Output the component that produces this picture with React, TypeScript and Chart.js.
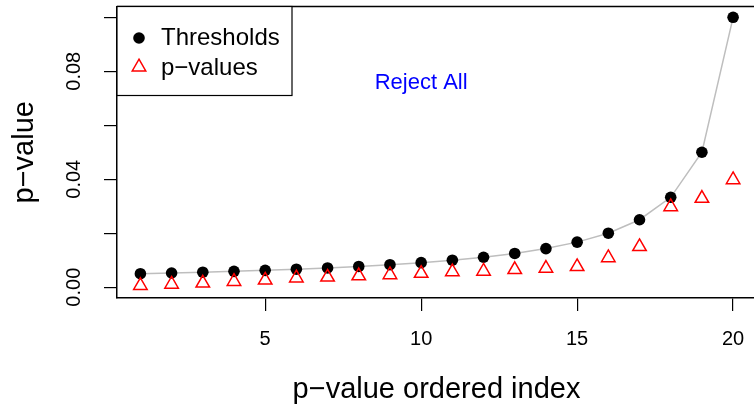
import React, { useEffect, useRef } from "react";
import { Chart, registerables } from "chart.js";

Chart.register(...registerables);

const indices = [1, 2, 3, 4, 5, 6, 7, 8, 9, 10, 11, 12, 13, 14, 15, 16, 17, 18, 19, 20];
const thresholds = [
  0.005, 0.00526, 0.00556, 0.00588, 0.00625, 0.00667, 0.00714, 0.00769, 0.00833, 0.00909,
  0.01, 0.0111, 0.0125, 0.0143, 0.0167, 0.02, 0.025, 0.0333, 0.05, 0.1,
];
const pValues = [
  0.0006, 0.0011, 0.0015, 0.0021, 0.0026, 0.0034, 0.0037, 0.0042, 0.0046, 0.0051,
  0.0057, 0.0059, 0.0065, 0.007, 0.0076, 0.0109, 0.015, 0.0298, 0.0329, 0.0398,
];
const xTickValues = [5, 10, 15, 20];
const yTickValues = [0, 0.02, 0.04, 0.06, 0.08, 0.1];
const yTickLabels = ["0.00", "", "0.04", "", "0.08", ""];
const seriesLabels = ["Thresholds", "p−values"];
const annotationText = "Reject All";
const annotationX = 10;
const annotationY = 0.0757;
const xTitle = "p−value ordered index";
const yTitle = "p−value";

const FONT = '"Liberation Sans", Arial, Helvetica, sans-serif';

const overlayPlugin = {
  id: "overlay",
  afterDraw(chart: any) {
    const { ctx, chartArea: ca, scales } = chart;
    const xs = scales.x;
    const ys = scales.y;
    ctx.save();
    // top border of box
    ctx.strokeStyle = "#000";
    ctx.lineWidth = 1.5;
    ctx.beginPath();
    ctx.moveTo(ca.left, ca.top);
    ctx.lineTo(ca.right, ca.top);
    ctx.stroke();

    // y tick labels (rotated)
    ctx.fillStyle = "#000";
    ctx.font = `20px ${FONT}`;
    ctx.textAlign = "center";
    ctx.textBaseline = "alphabetic";
    ys.ticks.forEach((t: any) => {
      const idx = yTickValues.findIndex((v) => Math.abs(v - t.value) < 1e-9);
      const lbl = idx >= 0 ? yTickLabels[idx] : "";
      if (!lbl) return;
      const py = ys.getPixelForValue(t.value);
      ctx.save();
      ctx.translate(ca.left - 37, py);
      ctx.rotate(-Math.PI / 2);
      ctx.fillText(lbl, 0, 0);
      ctx.restore();
    });

    // axis titles
    ctx.font = `29px ${FONT}`;
    ctx.textAlign = "center";
    ctx.textBaseline = "alphabetic";
    ctx.fillText(xTitle, (ca.left + ca.right) / 2 + 1, 398);
    ctx.save();
    ctx.translate(33, (ca.top + ca.bottom) / 2);
    ctx.rotate(-Math.PI / 2);
    ctx.fillText(yTitle, 0, 0);
    ctx.restore();

    // annotation
    ctx.fillStyle = "#0000FF";
    ctx.font = `22px ${FONT}`;
    ctx.textBaseline = "middle";
    ctx.fillText(annotationText, xs.getPixelForValue(annotationX), ys.getPixelForValue(annotationY));

    // legend
    const lx = ca.left;
    const ly = ca.top;
    const lw = 175;
    const lh = 89;
    ctx.fillStyle = "#fff";
    ctx.fillRect(lx, ly, lw, lh);
    ctx.strokeStyle = "#000";
    ctx.lineWidth = 1.2;
    ctx.strokeRect(lx, ly, lw, lh);
    const ds = chart.data.datasets;
    ctx.fillStyle = ds[0].pointBackgroundColor;
    ctx.beginPath();
    ctx.arc(lx + 22, ly + 31.5, ds[0].pointRadius, 0, Math.PI * 2);
    ctx.fill();
    const r = ds[1].pointRadius;
    const tx = lx + 22;
    const ty = ly + 60.5;
    ctx.strokeStyle = ds[1].pointBorderColor;
    ctx.lineWidth = ds[1].pointBorderWidth;
    ctx.beginPath();
    for (let k = 0; k < 3; k++) {
      const a = (k * 2 * Math.PI) / 3;
      const px = tx + Math.sin(a) * r;
      const py = ty - Math.cos(a) * r;
      if (k === 0) ctx.moveTo(px, py);
      else ctx.lineTo(px, py);
    }
    ctx.closePath();
    ctx.stroke();
    ctx.fillStyle = "#000";
    ctx.font = `24px ${FONT}`;
    ctx.textAlign = "left";
    ctx.textBaseline = "alphabetic";
    ctx.fillText(seriesLabels[0], lx + 44, ly + 38.5);
    ctx.fillText(seriesLabels[1], lx + 44, ly + 68);
    ctx.restore();
  },
};

export default function App() {
  const canvasRef = useRef<HTMLCanvasElement | null>(null);

  useEffect(() => {
    if (!canvasRef.current) return;
    const chart = new Chart(canvasRef.current, {
      type: "scatter",
      data: {
        datasets: [
          {
            label: seriesLabels[0],
            data: indices.map((x, i) => ({ x, y: thresholds[i] })),
            showLine: true,
            borderColor: "#BEBEBE",
            borderWidth: 1.5,
            pointBackgroundColor: "#000000",
            pointBorderColor: "#000000",
            pointBorderWidth: 0,
            pointRadius: 5.8,
            pointStyle: "circle",
            order: 2,
          },
          {
            label: seriesLabels[1],
            data: indices.map((x, i) => ({ x, y: pValues[i] })),
            showLine: false,
            pointStyle: "triangle",
            pointRadius: 7.8,
            pointBorderColor: "#FF0000",
            pointBackgroundColor: "rgba(0,0,0,0)",
            pointBorderWidth: 1.5,
            order: 1,
          },
        ],
      },
      options: {
        animation: false,
        responsive: true,
        maintainAspectRatio: false,
        devicePixelRatio: 1,
        layout: { autoPadding: false, padding: { top: 6.5, right: 0, left: 0, bottom: 0 } },
        plugins: {
          legend: { display: false },
          tooltip: { enabled: false },
        },
        scales: {
          x: {
            type: "linear",
            min: 0.25,
            max: 20.67,
            afterFit: (s: any) => {
              s.height = 106;
              s.paddingLeft = 0;
              s.paddingRight = 0;
            },
            afterBuildTicks: (s: any) => {
              s.ticks = xTickValues.map((v) => ({ value: v }));
            },
            grid: {
              display: true,
              drawOnChartArea: false,
              drawTicks: true,
              tickLength: 13,
              color: "#000",
              lineWidth: 1.2,
            },
            border: { display: true, color: "#000", width: 1.5 },
            ticks: {
              color: "#000",
              font: { family: FONT, size: 20 },
              padding: 16,
              maxRotation: 0,
              minRotation: 0,
              autoSkip: false,
              callback: (v: any) => String(v),
            },
          },
          y: {
            type: "linear",
            min: -0.004,
            max: 0.104,
            afterFit: (s: any) => {
              s.width = 117;
              s.paddingTop = 0;
              s.paddingBottom = 0;
            },
            afterBuildTicks: (s: any) => {
              s.ticks = yTickValues.map((v) => ({ value: v }));
            },
            grid: {
              display: true,
              drawOnChartArea: false,
              drawTicks: true,
              tickLength: 13,
              color: "#000",
              lineWidth: 1.2,
            },
            border: { display: true, color: "#000", width: 1.5 },
            ticks: { display: false },
          },
        },
      },
      plugins: [overlayPlugin],
    });
    return () => chart.destroy();
  }, []);

  return (
    <div style={{ position: "fixed", left: 0, top: 0, width: 754, height: 404, background: "#fff" }}>
      <canvas ref={canvasRef} />
    </div>
  );
}
